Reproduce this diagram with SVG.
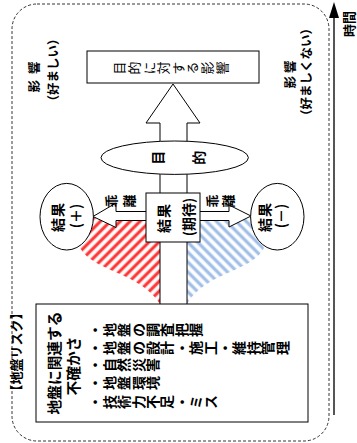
<svg xmlns="http://www.w3.org/2000/svg" width="357" height="443" viewBox="0 0 357 443">
<defs>
<pattern id="redHatch" width="7" height="7" patternUnits="userSpaceOnUse" patternTransform="rotate(45)">
<rect width="7" height="7" fill="#fff"/>
<rect x="1.5" width="4" height="7" fill="#ffb0b0"/>
<rect x="2.3" width="2.4" height="7" fill="#ff2a2a"/>
</pattern>
<pattern id="blueHatch" width="7" height="7" patternUnits="userSpaceOnUse" patternTransform="rotate(-45)">
<rect width="7" height="7" fill="#fff"/>
<rect x="1.5" width="4" height="7" fill="#d3e2f6"/>
<rect x="2.3" width="2.4" height="7" fill="#9cbbe6"/>
</pattern>
</defs>
<style>
text{font-family:"Noto Sans CJK JP","Noto Sans CJK SC",sans-serif;font-weight:bold;fill:#000}
.h{text-anchor:middle;dominant-baseline:central}
.v{writing-mode:vertical-rl}
.shape{fill:#fff;stroke:#000;stroke-width:1}
</style>
<rect x="0" y="0" width="357" height="443" fill="#fff"/>

<g id="frame">
<rect x="12" y="4" width="317" height="437" rx="25" ry="25" fill="none" stroke="#000" stroke-width="0.8" stroke-dasharray="3,2"/>
</g>

<g id="time-axis">
<line x1="334" y1="415" x2="334" y2="16" stroke="#555" stroke-width="2"/>
<polygon points="334,2 329,18 339,18" fill="#000"/>
<text class="h" font-size="13" transform="translate(348,24) rotate(-90)">時間</text>
</g>

<g id="hatch">
<path d="M93,217 L160,217 L160,304 C140,272 94,272 80,248 Z" fill="url(#redHatch)"/>
<path d="M251,217 L187,217 L187,304 C205,272 252,272 264,248 Z" fill="url(#blueHatch)"/>
</g>

<g id="connectors">
<path class="shape" d="M160,304 L160,123 L146,123 L173,84 L200,123 L187,123 L187,304"/>
<path class="shape" d="M146,211.5 L116,211.5 L116,203 L93,216.5 L116,227.5 L116,220.5 L146,220.5"/>
<path class="shape" d="M200,211.5 L229,211.5 L229,205 L251,216 L229,227 L229,220.5 L200,220.5"/>
<text class="v" font-size="13" letter-spacing="5" transform="translate(104.5,201) rotate(-90)">乖離</text>
<text class="v" font-size="13" letter-spacing="3" transform="translate(206,201) rotate(-90)">乖離</text>
</g>

<g id="impact-node">
<rect class="shape" x="87" y="51" width="172" height="32"/>
<text class="v" font-size="13" font-weight="normal" style="font-weight:normal" letter-spacing="1.6" transform="translate(113,68) rotate(-90)">目的に対する影響</text>
</g>

<g id="purpose-node">
<ellipse class="shape" cx="174.7" cy="157.7" rx="73.7" ry="16.7"/>
<text class="h" font-size="14" transform="translate(156.7,157.7) rotate(-90)">目</text>
<text class="h" font-size="14" transform="translate(198.3,157.7) rotate(-90)">的</text>
</g>

<g id="expected-node">
<rect class="shape" x="146" y="193" width="54" height="49"/>
<text class="h" font-size="14" letter-spacing="1" transform="translate(163.3,218) rotate(-90)">結果</text>
<text class="h" font-size="14" transform="translate(188,217) rotate(-90)">(期待)</text>
</g>

<g id="plus-node">
<ellipse class="shape" cx="66.7" cy="216.7" rx="26.7" ry="33.3"/>
<text class="h" font-size="14" letter-spacing="1" transform="translate(56.7,217) rotate(-90)">結果</text>
<text class="h" font-size="14" transform="translate(75,216) rotate(-90)">(＋)</text>
</g>

<g id="minus-node">
<ellipse class="shape" cx="277.3" cy="216.7" rx="26.7" ry="33.3"/>
<text class="h" font-size="14" letter-spacing="1" transform="translate(264,217) rotate(-90)">結果</text>
<text class="h" font-size="14" transform="translate(280,216) rotate(-90)">(－)</text>
</g>

<g id="risk-node">
<rect class="shape" x="36" y="304" width="272" height="118"/>
<text class="h" font-size="14.7" transform="translate(53,363) rotate(-90)">地盤に関連する</text>
<text class="h" font-size="14.7" transform="translate(72.7,366) rotate(-90)">不確かさ</text>
<text class="v" font-size="14" letter-spacing="0.4" transform="translate(88,330) rotate(-90)">・地盤の調査把握</text>
<text class="v" font-size="14" letter-spacing="0.4" transform="translate(88,348) rotate(-90)">・地盤の設計・施工・維持管理</text>
<text class="v" font-size="14" letter-spacing="0.4" transform="translate(88,365) rotate(-90)">・自然災害</text>
<text class="v" font-size="14" letter-spacing="0.4" transform="translate(88,383) rotate(-90)">・地盤環境</text>
<text class="v" font-size="14" letter-spacing="0.4" transform="translate(88,402) rotate(-90)">・技術力不足・ミス</text>
</g>

<g id="risk-label">
<text class="h" font-size="13" transform="translate(15,352) rotate(-90)">【地盤リスク】</text>
</g>

<g id="good-label">
<text class="h" font-size="12.5" letter-spacing="6" transform="translate(33,74) rotate(-90)">影響</text>
<text class="h" font-size="12.5" transform="translate(52,70) rotate(-90)">（好ましい）</text>
</g>

<g id="bad-label">
<text class="h" font-size="12.5" letter-spacing="3" transform="translate(289,73) rotate(-90)">影響</text>
<text class="h" font-size="12.5" transform="translate(305,72) rotate(-90)">（好ましくない）</text>
</g>
</svg>
